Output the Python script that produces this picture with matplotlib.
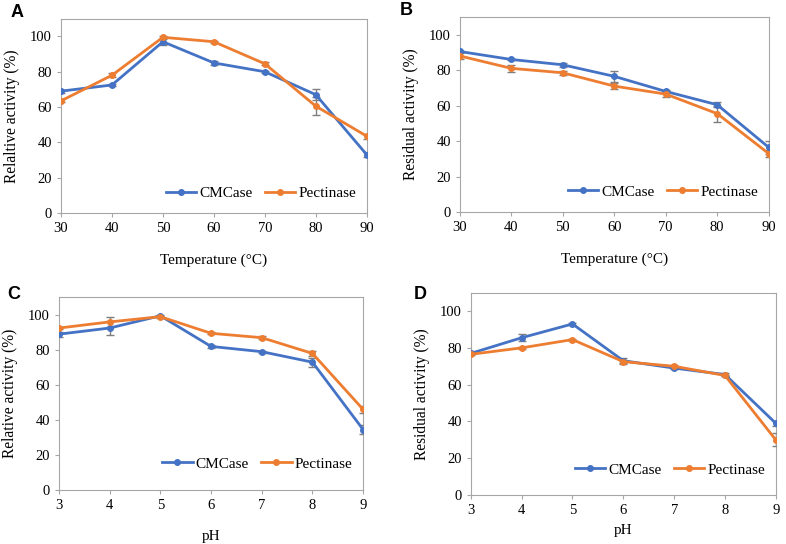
import numpy as np
import matplotlib
matplotlib.use("Agg")
import matplotlib.pyplot as plt
from matplotlib.lines import Line2D

plt.rcParams['font.family'] = ['Liberation Serif', 'DejaVu Serif']

# data
temp = [30, 40, 50, 60, 70, 80, 90]
ph = [3, 4, 5, 6, 7, 8, 9]

a_cmc = [69, 72.5, 97, 85, 80, 67, 33]
a_cmc_err = [0.8, 0.8, 2.0, 1.2, 0.6, 3.0, 1.5]
a_pec = [63.5, 78, 99.5, 97, 84.5, 60.5, 43.5]
a_pec_err = [0.8, 1.2, 1.0, 0.5, 0.8, 5.0, 1.5]

b_cmc = [90.5, 86, 83, 76.5, 68, 60.5, 36.5]
b_cmc_err = [0.5, 0.5, 1.2, 3.0, 0.6, 1.5, 3.5]
b_pec = [88, 81, 78.5, 71, 66.5, 55.5, 33]
b_pec_err = [1.5, 2.0, 1.0, 1.5, 1.5, 4.5, 2.0]

c_cmc = [89, 92.5, 99.5, 82, 79, 73, 34.5]
c_cmc_err = [1.5, 4.0, 0.5, 1.0, 0.5, 2.5, 2.5]
c_pec = [92.5, 96, 99, 89.5, 87, 78, 46]
c_pec_err = [0.5, 3.0, 0.5, 0.5, 1.0, 1.2, 2.0]

d_cmc = [77, 85.5, 93, 73, 69, 65.5, 39]
d_cmc_err = [0.5, 2.0, 0.5, 1.5, 0.5, 0.8, 1.5]
d_pec = [76.5, 80, 84.5, 72.5, 70, 65, 30]
d_pec_err = [0.5, 0.5, 0.5, 0.5, 0.5, 0.5, 3.5]

blue = '#4472C4'
orange = '#ED7D31'
grey = '#7f7f7f'

fig = plt.figure(figsize=(7.86, 5.44), dpi=100)

# letter, axes rect, x, series..., ylabel, xlabel, xlabel pad, legend y, letter pos
panels = [
    ('A', [0.0776, 0.6085, 0.389, 0.357], temp, a_cmc, a_cmc_err, a_pec, a_pec_err,
     'Relaltive activity (%)', 'Temperature (°C)', 13, 0.10, (0.014, 0.992)),
    ('B', [0.585, 0.610, 0.393, 0.359], temp, b_cmc, b_cmc_err, b_pec, b_pec_err,
     'Residual activity (%)', 'Temperature (°C)', 13, 0.105, (0.508, 0.996)),
    ('C', [0.075, 0.0993, 0.387, 0.354], ph, c_cmc, c_cmc_err, c_pec, c_pec_err,
     'Relative activity (%)', 'pH', 13, 0.135, (0.009, 0.474)),
    ('D', [0.599, 0.090, 0.388, 0.372], ph, d_cmc, d_cmc_err, d_pec, d_pec_err,
     'Residual activity (%)', 'pH', 5, 0.125, (0.527, 0.474)),
]

for letter, rect, x, cmc, cmc_err, pec, pec_err, ylab, xlab, xpad, ly, lpos in panels:
    ax = fig.add_axes(rect)
    ax.errorbar(x, cmc, yerr=cmc_err, color=blue, ecolor=grey, elinewidth=1,
                capsize=3, capthick=1, lw=2, marker='o', ms=4, zorder=3)
    ax.errorbar(x, pec, yerr=pec_err, color=orange, ecolor=grey, elinewidth=1,
                capsize=3, capthick=1, lw=2, marker='o', ms=4, zorder=3)
    ax.set_xlim(x[0], x[-1])
    ax.set_ylim(0, 110)
    ax.set_xticks(x)
    ax.set_yticks(np.arange(0, 101, 20))
    for s in ax.spines.values():
        s.set_color('#a6a6a6')
    ax.tick_params(colors='#a6a6a6', labelcolor='black', labelsize=10.5, length=3)
    ax.set_ylabel(ylab, fontsize=11.2, labelpad=7)
    ax.set_xlabel(xlab, fontsize=11, labelpad=xpad)
    handles = [Line2D([], [], color=blue, lw=2, marker='o', ms=4),
               Line2D([], [], color=orange, lw=2, marker='o', ms=4)]
    ax.legend(handles, ['CMCase', 'Pectinase'], loc='center right', ncol=2,
              frameon=False, fontsize=11, handlelength=2.0, columnspacing=0.8,
              handletextpad=0.2, borderaxespad=0.3, bbox_to_anchor=(1.0, ly))
    fig.text(lpos[0], lpos[1], letter, fontsize=13, fontweight='bold',
             family='Liberation Sans', va='top', ha='left')

fig.savefig('out.png', dpi=100)
